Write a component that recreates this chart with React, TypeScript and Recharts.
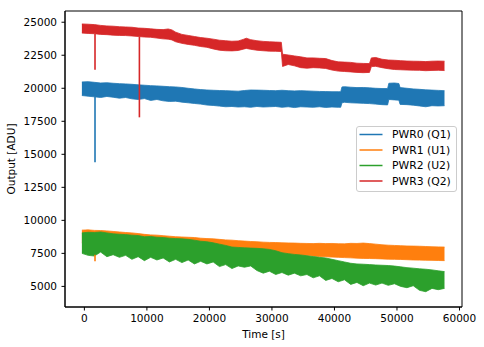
import React from 'react';
import { ComposedChart, Area, Line, XAxis, YAxis, Legend, ReferenceArea } from 'recharts';

const COLORS = ['#1f77b4', '#ff7f0e', '#2ca02c', '#d62728'];
const seriesNames = ['PWR0 (Q1)', 'PWR1 (U1)', 'PWR2 (U2)', 'PWR3 (Q2)'];

const xTicks = [0, 10000, 20000, 30000, 40000, 50000, 60000];
const yTicks = [5000, 7500, 10000, 12500, 15000, 17500, 20000, 22500, 25000];
const xDomain = [-3100, 60400];
const yDomain = [3440, 25850];

// PWR0 (Q1) - envelope of the noisy trace
const pwr0T = [-400, 600, 1600, 2600, 3600, 4600, 5600, 6600, 7600, 8600, 9600, 10600, 11600, 12600, 13600, 14600, 15600, 16600, 17600, 18600, 19600, 20600, 21600, 22600, 23600, 24600, 25600, 26600, 27600, 28600, 29600, 30600, 31600, 32600, 33600, 34600, 35600, 36600, 37600, 38600, 39600, 40600, 41000, 41200, 41600, 42600, 43600, 44600, 45600, 46600, 47600, 48500, 48700, 49600, 50300, 50500, 51600, 52600, 53600, 54600, 55600, 56600, 57600];
const pwr0Hi = [20480, 20500, 20450, 20400, 20420, 20380, 20350, 20330, 20300, 20260, 20230, 20200, 20180, 20150, 20120, 20100, 20060, 20000, 19950, 19900, 19870, 19850, 19830, 19820, 19800, 19780, 19830, 19870, 19860, 19850, 19830, 19820, 19850, 19820, 19800, 19820, 19800, 19780, 19760, 19750, 19740, 19740, 19740, 20100, 20120, 20080, 20050, 20060, 20030, 20000, 19980, 19980, 20380, 20400, 20360, 20050, 20000, 19950, 19920, 19880, 19860, 19840, 19820];
const pwr0Lo = [19450, 19400, 19350, 19300, 19380, 19320, 19250, 19300, 19200, 19150, 19220, 19080, 19150, 19050, 19000, 19020, 18950, 18900, 18850, 18800, 18730, 18700, 18650, 18600, 18620, 18580, 18600, 18560, 18620, 18580, 18600, 18620, 18560, 18600, 18540, 18600, 18580, 18560, 18600, 18550, 18580, 18560, 18560, 18900, 18940, 18900, 18880, 18860, 18840, 18800, 18760, 18740, 19150, 19120, 19100, 18780, 18760, 18720, 18660, 18600, 18680, 18660, 18680];

// PWR1 (U1) and PWR2 (U2) share one time grid
const gridT = [-400, 600, 1600, 2600, 3600, 4600, 5600, 6600, 7600, 8600, 9600, 10600, 11600, 12600, 13600, 14600, 15600, 16600, 17600, 18600, 19600, 20600, 21600, 22600, 23600, 24600, 25600, 26600, 27600, 28600, 29600, 30600, 31600, 32600, 33600, 34600, 35600, 36600, 37600, 38600, 39600, 40600, 41600, 42600, 43600, 44600, 45600, 46600, 47600, 48600, 49600, 50600, 51600, 52600, 53600, 54600, 55600, 56600, 57600];
const pwr1Hi = [9260, 9280, 9240, 9230, 9200, 9160, 9120, 9080, 9050, 9000, 8940, 8900, 8880, 8840, 8800, 8760, 8740, 8720, 8700, 8650, 8620, 8600, 8560, 8520, 8500, 8460, 8430, 8400, 8380, 8350, 8330, 8320, 8300, 8290, 8280, 8260, 8250, 8240, 8260, 8240, 8250, 8230, 8220, 8260, 8250, 8280, 8240, 8200, 8150, 8120, 8100, 8080, 8060, 8050, 8040, 8020, 8000, 7990, 7980];
const pwr1Lo = [8300, 8280, 8250, 8240, 8200, 8180, 8150, 8100, 8080, 8050, 8000, 7980, 7950, 7920, 7900, 7870, 7850, 7820, 7800, 7780, 7760, 7740, 7720, 7700, 7680, 7660, 7640, 7620, 7600, 7580, 7560, 7520, 7480, 7430, 7380, 7350, 7330, 7300, 7260, 7240, 7220, 7200, 7180, 7160, 7140, 7120, 7110, 7100, 7080, 7060, 7050, 7040, 7020, 7000, 6990, 6980, 6970, 6960, 6950];
const pwr2Hi = [9050, 9100, 9080, 9120, 9050, 8980, 8950, 8920, 8880, 8850, 8760, 8780, 8720, 8700, 8650, 8620, 8600, 8560, 8500, 8420, 8380, 8300, 8200, 8100, 7980, 7950, 7920, 7900, 7880, 7850, 7800, 7700, 7550, 7480, 7420, 7380, 7320, 7260, 7200, 7150, 7050, 6950, 6850, 6750, 6700, 6680, 6650, 6620, 6600, 6580, 6540, 6480, 6420, 6380, 6330, 6300, 6250, 6180, 6120];
const pwr2Lo = [7500, 7350, 7300, 7600, 7250, 7400, 7200, 7350, 7050, 7250, 6950, 7200, 7000, 7150, 6850, 7050, 6800, 7000, 6700, 6900, 6700, 6850, 6500, 6650, 6350, 6550, 6450, 6550, 6200, 6000, 6150, 5900, 6050, 5850, 6000, 5800, 5900, 5650, 5800, 5450, 5600, 5350, 5500, 5150, 5300, 5050, 5250, 5100, 5250, 5080, 5200, 5000, 4900, 5050, 4700, 4600, 4850, 4750, 4850];

// PWR3 (Q2)
const pwr3T = [-400, 600, 1600, 2600, 3600, 4600, 5600, 6600, 7600, 8600, 9600, 10600, 11600, 12600, 13400, 14000, 14600, 15600, 16600, 17600, 18600, 19600, 20600, 21600, 22600, 23600, 24600, 25400, 25900, 26600, 27600, 28600, 29600, 30600, 31500, 31700, 32600, 33600, 34600, 35600, 36600, 37600, 38600, 39600, 40600, 41600, 42600, 43600, 44600, 45600, 45900, 46600, 47600, 48600, 49600, 50600, 51600, 52600, 53600, 54600, 55600, 56600, 57600];
const pwr3Hi = [24870, 24850, 24820, 24760, 24720, 24700, 24660, 24640, 24620, 24560, 24540, 24500, 24460, 24440, 24490, 24420, 24250, 24080, 24000, 23920, 23840, 23790, 23720, 23640, 23600, 23560, 23580, 23700, 23790, 23680, 23600, 23550, 23520, 23500, 23480, 22580, 22520, 22450, 22380, 22300, 22300, 22270, 22250, 22100, 22000, 21980, 21960, 21900, 21880, 21870, 22300, 22330, 22200, 22140, 22120, 22090, 22060, 22050, 22040, 22020, 22050, 22060, 22050];
const pwr3Lo = [24180, 24150, 24130, 24080, 24060, 24020, 24000, 23990, 23960, 23920, 23880, 23860, 23800, 23740, 23720, 23660, 23520, 23400, 23320, 23250, 23160, 23100, 22980, 22880, 22840, 22830, 22860, 22960, 23020, 22950, 22880, 22840, 22810, 22800, 22780, 21650, 21800, 21700, 21560, 21520, 21560, 21540, 21500, 21380, 21300, 21270, 21240, 21200, 21180, 21200, 21640, 21660, 21560, 21480, 21420, 21400, 21380, 21370, 21360, 21330, 21350, 21360, 21340];

// single-sample glitches: [time, from, to]
const pwr0Spikes = [[1700, 19400, 14400]];
const pwr1Spikes = [[1700, 7400, 6900]];
const pwr3Spikes = [[1700, 24100, 21400], [8800, 23900, 17800]];

const band = (t: number[], lo: number[], hi: number[]) => t.map((x, i) => ({ t: x, range: [lo[i], hi[i]] }));

const bands = [
  band(pwr0T, pwr0Lo, pwr0Hi),
  band(gridT, pwr1Lo, pwr1Hi),
  band(gridT, pwr2Lo, pwr2Hi),
  band(pwr3T, pwr3Lo, pwr3Hi),
];
const spikes = [pwr0Spikes, pwr1Spikes, [], pwr3Spikes];

const font = 'DejaVu Sans';
const fs = 10.5;

const LegendBox = () => (
  <svg width={102} height={67} style={{ display: 'block' }}>
    <rect x={0.5} y={0.5} width={100} height={65} rx={2.5} fill="#fff" fillOpacity={0.8} stroke="#cccccc" />
    {seriesNames.map((name, i) => {
      const cy = 8.5 + i * 15.5;
      return (
        <g key={name}>
          <line x1={3.5} x2={26.5} y1={cy} y2={cy} stroke={COLORS[i]} strokeWidth={1.5} />
          <text x={36} y={cy + 3.8} fontSize={10.8} fill="#000" fontFamily={font}>{name}</text>
        </g>
      );
    })}
  </svg>
);

export default function App() {
  return (
    <div style={{ position: 'absolute', left: 0, top: 0, fontFamily: font }}>
      <ComposedChart width={484} height={347} margin={{ top: 11, right: 22, left: 0, bottom: 0 }}>
        <XAxis
          dataKey="t"
          type="number"
          domain={xDomain}
          ticks={xTicks}
          allowDataOverflow
          height={40}
          stroke="#000"
          tickSize={3.5}
          tickMargin={4.5}
          tick={{ fontSize: fs, fill: '#000', fontFamily: font }}
          label={{ value: 'Time [s]', position: 'insideBottom', offset: 9, style: { fontSize: fs, fill: '#000', fontFamily: font } }}
        />
        <YAxis
          type="number"
          domain={yDomain}
          ticks={yTicks}
          allowDataOverflow
          width={65}
          stroke="#000"
          tickSize={3.5}
          tickMargin={4.5}
          tick={{ fontSize: fs, fill: '#000', fontFamily: font }}
          label={{ value: 'Output [ADU]', angle: -90, position: 'insideLeft', offset: 11, style: { textAnchor: 'middle', fontSize: fs, fill: '#000', fontFamily: font } }}
        />
        {bands.map((rows, i) => (
          <Area
            key={'band' + i}
            data={rows}
            dataKey="range"
            type="linear"
            stroke={COLORS[i]}
            strokeWidth={0.8}
            fill={COLORS[i]}
            fillOpacity={1}
            dot={false}
            activeDot={false}
            legendType="none"
            isAnimationActive={false}
          />
        ))}
        {spikes.map((list, i) =>
          list.map((s, j) => (
            <Line
              key={'spike' + i + '-' + j}
              data={[{ t: s[0], v: s[1] }, { t: s[0], v: s[2] }]}
              dataKey="v"
              type="linear"
              stroke={COLORS[i]}
              strokeWidth={1.6}
              dot={false}
              activeDot={false}
              legendType="none"
              isAnimationActive={false}
            />
          ))
        )}
        <ReferenceArea x1={xDomain[0]} x2={xDomain[1]} y1={yDomain[0]} y2={yDomain[1]} fill="none" stroke="#000" strokeWidth={1} />
        <Legend
          content={<LegendBox />}
          layout="horizontal"
          verticalAlign="middle"
          align="center"
          wrapperStyle={{ left: 356, top: 126, width: 102 }}
        />
      </ComposedChart>
    </div>
  );
}
